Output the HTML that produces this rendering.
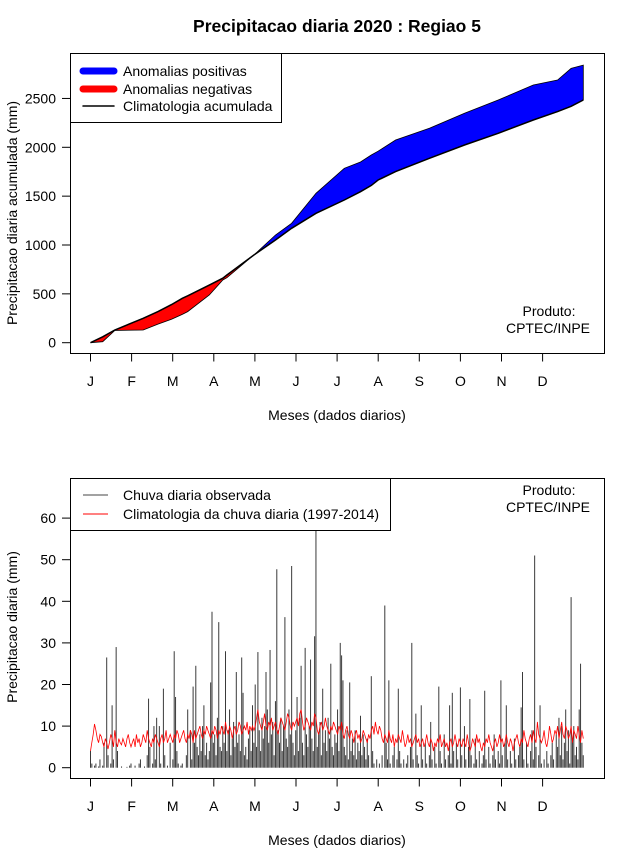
<!DOCTYPE html>
<html><head><meta charset="utf-8"><style>
body{margin:0;background:#fff;}
svg{display:block;font-family:"Liberation Sans",Arial,sans-serif;}
</style></head><body>
<svg id="chart" width="640" height="850" viewBox="0 0 640 850" xmlns="http://www.w3.org/2000/svg">
<text x="337" y="32" text-anchor="middle" font-size="17.5" font-weight="bold">Precipitacao diaria 2020 : Regiao 5</text>
<g id="topPanel"></g>
<g id="botPanel"></g>
</svg>
<script>
const monthLabels = ["J","F","M","A","M","J","J","A","S","O","N","D"];
const topYTicks = [0,500,1000,1500,2000,2500];
const botYTicks = [0,10,20,30,40,50,60];
const cumDays = [1,10,19,40,51,61,69,73,89,99,102,122,138,150,168,189,201,209,214,227,252,278,303,329,347,357,366];
const climCum = [0,60,130,250,318,390,454,480,590,660,693,898,1051,1171,1324,1461,1546,1610,1665,1751,1887,2024,2143,2279,2365,2420,2484];
const obsCum  = [0,10,125,130,190,240,290,318,488,642,665,898,1102,1222,1529,1785,1850,1921,1960,2075,2194,2348,2484,2638,2689,2808,2841];
const obsDaily = [].concat(
[4,1,0,0.5,1,0,0.3,2,0,0.5,6,0,26.5,3,0,1,15,2,0,29,4,0,0,0.3,0,0,0,0.2,0,0.5,1],
[0,0,0.5,0,0,1,2,0,0,0.3,0,3,16.6,5,0,1,10,2,12,0,10,1,0,19,3,0,0.5,0,6],
[0,2,28,17,4,1,0,0.5,1,0,0,3,14,0,9,2,19.5,6,24.5,5,3,8,4,10,15,3,6,2,4,20.5,37.5],
[6,8,3,12,35,5,4,10,6,28,4,9,14,3,7,11,5,23,6,8,4,26.5,18,3,5,2,7,9,4,15],
[6,20,5,27.8,9,4,12,7,10,23,14,6,28.3,8,11,3,16,47.7,9,6,12,4,10,36.2,7,5,14,8,48.5,6,3],
[9,17,4,12,24.5,6,3,28.8,8,5,10,26,7,4,31.6,72,5,8,11,3,19,6,9,4,12,7,25,5,3,8],
[6,14,4,30,27,21,5,3,9,2,20.5,4,7,3,9,2,6,4,12.5,3,8,5,2,7,3,0,22,4,1,0,2],
[0,1,0,3,0,39,6,2,21,1,0,3,5,0,2,19,4,1,0,2,0,1,3,0,5,30,2,0,13,3,1],
[0,15,2,0,6,1,0,3,11,2,0,5,1,0,19.5,4,1,0,8,2,0,3,15,1,18,4,0,6,2,0],
[19.3,3,0,10,2,0,5,16.5,3,0,1,7,2,0,4,0,1,3,18.5,2,0,5,1,0,3,8,2,0,4,1,21],
[3,0,6,15,2,0,4,1,0,7,2,0,3,5,14.5,23,2,0,6,1,0,4,9,2,51,5,0,3,15,1],
[0,2,0,4,1,0,3,6,2,0,8,5,12,3,10,2,6,14,4,9,1,41,7,10,3,5,2,14,25,6,3]);
const climDaily = [].concat(
[4,6,8,10.5,9,7,6,8,7.5,6,5,7,6,4.5,6,8,7,5,9,6,5,7,6,5.5,7,6,5,7,8,6,5],
[6,7,5,8,6,7,5,6,8,7,6,9,7,6,5,7,6,8,7,6,5,7,8,6,7,9,6,7,8],
[7,6,8,7,9,8,6,7,8,9,7,6,8,7,9,8,6,9,7,8,9,10,8,7,9,8,10,9,8,7,9],
[8,10,9,7,9,8,10,9,8,11,9,8,10,9,7,9,10,8,9,11,10,8,9,10,9,11,8,10,9,10],
[9,10,12,14,11,10,9,11,13,10,9,11,10,12,9,10,11,9,8,10,12,11,10,9,11,13,12,10,9,11,10],
[11,12,10,13,14,11,9,10,12,11,10,9,11,10,13,12,9,8,10,11,9,10,12,10,9,8,10,9,11,10],
[9,8,10,9,11,8,7,9,10,8,7,9,8,6,8,9,7,8,6,7,9,8,7,6,8,7,9,10,8,11,9],
[8,10,9,7,6,8,7,6,9,7,6,8,5,7,6,8,7,6,9,7,5,6,8,6,7,5,6,7,8,6,7],
[5,6,7,5,6,8,6,5,7,6,4,6,5,7,6,8,5,6,7,5,6,4,6,7,5,6,8,6,5,7],
[6,5,7,6,5,8,6,4,5,7,6,5,8,6,7,5,4,6,5,7,6,8,6,5,4,6,7,5,6,8,6],
[7,5,6,8,6,5,7,6,4,6,7,8,6,5,7,6,9,7,6,5,7,8,6,9,7,6,11,8,7,6],
[7,9,6,5,7,10,8,6,7,9,8,10,7,9,11,8,7,10,9,7,8,10,6,9,8,7,10,8,6,9,7]);

const NS="http://www.w3.org/2000/svg";
function mk(tag,attrs,parent){const e=document.createElementNS(NS,tag);for(const k in attrs)e.setAttribute(k,attrs[k]);parent.appendChild(e);return e;}
const xDay = d => 90.5 + (d-1)*1.35;
const yTop = v => 342.7 - v*0.0977;
const yBot = v => 767.7 - v*4.16;
const FS = 14;

function axes(g, boxY, boxH, ticks, yf, labY, ylabel, ylabCy){
  const box=mk('rect',{x:70.5,y:boxY+0.5,width:534,height:boxH,fill:'none',stroke:'#000','stroke-width':1},g);
  
  
  ticks.forEach(t=>{
    const y=yf(t);
    const l=mk('line',{x1:62,x2:70,y1:y,y2:y,stroke:'#000'},g);
    
    
    const tx=mk('text',{x:56,y:y+5,'text-anchor':'end','font-size':FS},g);
    tx.textContent=t;
    
    
  });
  const bottom=boxY+boxH+0.5;
  monthLabels.forEach((m,i)=>{
    const x=90.5+41.1*i;
    const l=mk('line',{x1:x,x2:x,y1:bottom,y2:bottom+8,stroke:'#000'},g);
    
    
    const tx=mk('text',{x:x,y:labY,'text-anchor':'middle','font-size':FS},g);
    tx.textContent=m;
    
    
  });
  const xt=mk('text',{x:337,y:labY+34,'text-anchor':'middle','font-size':FS},g);
  xt.textContent='Meses (dados diarios)';
  
  
  const yt=mk('text',{x:0,y:0,'text-anchor':'middle','font-size':FS,transform:`translate(17,${ylabCy}) rotate(-90)`},g);
  yt.textContent=ylabel;
  
  
}

// TOP PANEL
const topG=document.getElementById('topPanel');
axes(topG,53,300,topYTicks,yTop,386,'Precipitacao diaria acumulada (mm)',213);
const climPts=cumDays.map((d,i)=>[xDay(d),yTop(climCum[i])]);
const hiPts=cumDays.map((d,i)=>[xDay(d),yTop(Math.max(climCum[i],obsCum[i]))]);
const loPts=cumDays.map((d,i)=>[xDay(d),yTop(Math.min(climCum[i],obsCum[i]))]);
const pts=a=>a.map(p=>p[0].toFixed(1)+','+p[1].toFixed(1)).join(' ');
const pb=mk('polygon',{points:pts(hiPts.concat(climPts.slice().reverse())),fill:'#0000ff',stroke:'#000','stroke-width':0.8},topG);


const pr=mk('polygon',{points:pts(loPts.concat(climPts.slice().reverse())),fill:'#ff0000',stroke:'#000','stroke-width':0.8},topG);


const cl=mk('polyline',{points:pts(climPts),fill:'none',stroke:'#000','stroke-width':1.5},topG);



const lg=mk('g',{},topG);


mk('rect',{x:70.5,y:53.5,width:211,height:69,fill:'#fff',stroke:'#000'},lg);
[['#0000ff',7,'Anomalias positivas',71],['#ff0000',7,'Anomalias negativas',89],['#000',1.5,'Climatologia acumulada',106]].forEach(e=>{
  const ln=mk('line',{x1:83,x2:114,y1:e[3],y2:e[3],stroke:e[0],'stroke-width':e[1],'stroke-linecap':'round'},lg);
  
  
  const t=mk('text',{x:123,y:e[3]+5,'font-size':FS},lg);
  t.textContent=e[2];
  
  
});
const p1=mk('text',{x:549,y:316,'text-anchor':'middle','font-size':FS},topG);p1.textContent='Produto:';


const p2=mk('text',{x:548,y:333,'text-anchor':'middle','font-size':FS},topG);p2.textContent='CPTEC/INPE';



// BOTTOM PANEL
const botG=document.getElementById('botPanel');
axes(botG,478,300,botYTicks,yBot,811,'Precipitacao diaria (mm)',627);
const cp=mk('clipPath',{id:'bclip'},botG);
mk('rect',{x:70,y:478,width:534,height:300},cp);
const bars=mk('g',{'clip-path':'url(#bclip)'},botG);


obsDaily.forEach((v,i)=>{
  const x=xDay(i+1);
  const b=mk('line',{x1:x,x2:x,y1:yBot(0),y2:yBot(v),stroke:'#3a3a3a','stroke-width':1},bars);
  
  
});
const rl=mk('polyline',{points:pts(climDaily.map((v,i)=>[xDay(i+1),yBot(v)])),fill:'none',stroke:'#ff0000','stroke-width':0.8},botG);


const lg2=mk('g',{},botG);


mk('rect',{x:70.5,y:478.5,width:320,height:52,fill:'#fff',stroke:'#000'},lg2);
[['#444','Chuva diaria observada',495],['#ff0000','Climatologia da chuva diaria (1997-2014)',514]].forEach(e=>{
  const ln=mk('line',{x1:83,x2:108,y1:e[2],y2:e[2],stroke:e[0],'stroke-width':1},lg2);
  
  
  const t=mk('text',{x:123,y:e[2]+5,'font-size':FS},lg2);
  t.textContent=e[1];
  
  
});
const p3=mk('text',{x:549,y:495,'text-anchor':'middle','font-size':FS},botG);p3.textContent='Produto:';


const p4=mk('text',{x:548,y:512,'text-anchor':'middle','font-size':FS},botG);p4.textContent='CPTEC/INPE';


</script>
</body></html>
